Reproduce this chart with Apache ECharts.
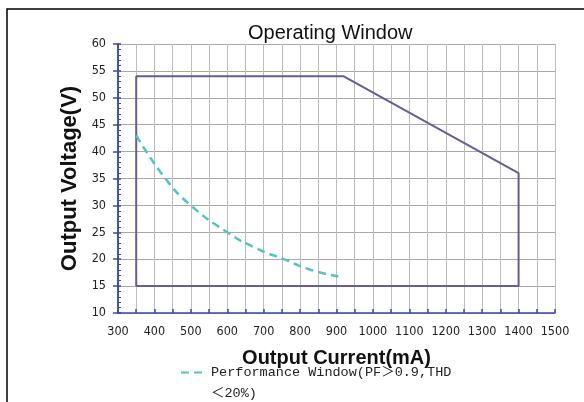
<!DOCTYPE html>
<html>
<head>
<meta charset="utf-8">
<script src="https://cdn.jsdelivr.net/npm/echarts@6/dist/echarts.min.js"></script>
<style>html,body{margin:0;padding:0;background:#fff}#c{width:584px;height:402px}</style>
</head>
<body>
<div id="c"></div>
<script>
const chartTitle = 'Operating Window';
const xName = 'Output Current(mA)';
const yName = 'Output Voltage(V)';
const legendName = 'Performance Window(PF＞0.9,THD\n＜20%)';
const windowCurrent = [350, 350, 920, 1400, 1400, 350];
const windowVoltage = [15, 54, 54, 36, 15, 15];
const perfCurrent = [350, 430, 500, 600, 680, 755, 830, 905];
const perfVoltage = [43, 35, 30, 25, 22, 20, 18, 16.8];
const xTicks = [300, 1500, 50];
const yTicks = [10, 60, 5];

const chart = echarts.init(document.getElementById('c'));
const axisBlue = '#3a48b0';
const labelFont = '"Liberation Sans Narrow","DejaVu Sans Condensed","Liberation Sans",Arial,sans-serif';
chart.setOption({
  animation: false,
  backgroundColor: '#fff',
  title: {
    text: chartTitle, left: 248, top: 23, padding: 0,
    textStyle: {fontFamily: '"Liberation Sans",Arial,sans-serif', fontSize: 20, fontWeight: 'normal', color: '#111'}
  },
  graphic: [{
    type: 'rect', shape: {x: 7, y: 9, width: 620, height: 440},
    style: {fill: 'none', stroke: '#000', lineWidth: 1.5}, silent: true, z: -1
  }],
  grid: {left: 118, right: 29, top: 44, bottom: 89},
  legend: {
    left: 180, top: 341, padding: 0, itemWidth: 25, itemHeight: 14, itemGap: 8,
    data: [legendName],
    itemStyle: {opacity: 0},
    formatter: n => ' \n' + n,
    textStyle: {fontFamily: '"Liberation Mono","Noto Sans CJK SC",monospace', fontSize: 13.5, color: '#222', lineHeight: 21}
  },
  xAxis: {
    type: 'value', min: xTicks[0], max: xTicks[1], interval: xTicks[2],
    name: xName, nameLocation: 'middle', nameGap: 35,
    nameTextStyle: {fontFamily: '"Liberation Sans",Arial,sans-serif', fontSize: 20, fontWeight: 'bold', color: '#111'},
    axisLine: {lineStyle: {color: axisBlue, width: 1.5}},
    axisTick: {inside: true, length: 4, lineStyle: {color: axisBlue, width: 1.5}},
    axisLabel: {margin: 12, fontFamily: labelFont, fontSize: 12.5, color: '#222',
      formatter: v => (v % 100 === 0 ? String(v) : '')},
    splitLine: {lineStyle: {color: '#bdbdbd', width: 1}}
  },
  yAxis: [{
    type: 'value', min: yTicks[0], max: yTicks[1], interval: yTicks[2],
    name: yName, nameLocation: 'middle', nameGap: 31, nameRotate: 90,
    nameTextStyle: {fontFamily: '"Liberation Sans",Arial,sans-serif', fontSize: 22, fontWeight: 'bold', color: '#111'},
    axisLine: {lineStyle: {color: axisBlue, width: 1.5}},
    axisTick: {inside: true, length: 3, lineStyle: {color: axisBlue, width: 1.5}},
    minorTick: {show: true, splitNumber: 5, length: 3, lineStyle: {color: axisBlue, width: 1}},
    axisLabel: {margin: 12, fontFamily: labelFont, fontSize: 12.5, color: '#222'},
    splitLine: {lineStyle: {color: '#a8a8a8', width: 1}}
  }, {
    type: 'value', min: yTicks[0], max: yTicks[1], interval: yTicks[2], position: 'left',
    axisLine: {show: true, lineStyle: {color: axisBlue, width: 1.5}},
    axisTick: {show: true, inside: false, length: 5, lineStyle: {color: axisBlue, width: 1.5}},
    axisLabel: {show: false}, splitLine: {show: false}
  }],
  series: [{
    type: 'line', name: 'Operating Window', symbol: 'none',
    data: windowCurrent.map((c, i) => [c, windowVoltage[i]]),
    lineStyle: {color: '#6b5b93', width: 2}, itemStyle: {color: '#6b5b93'}, z: 3
  }, {
    type: 'line', name: legendName, symbol: 'none', smooth: true,
    data: perfCurrent.map((c, i) => [c, perfVoltage[i]]),
    lineStyle: {color: '#52c4c4', width: 2.5, type: [8, 5]}, itemStyle: {color: '#52c4c4'}, z: 4
  }]
});
</script>
</body>
</html>
